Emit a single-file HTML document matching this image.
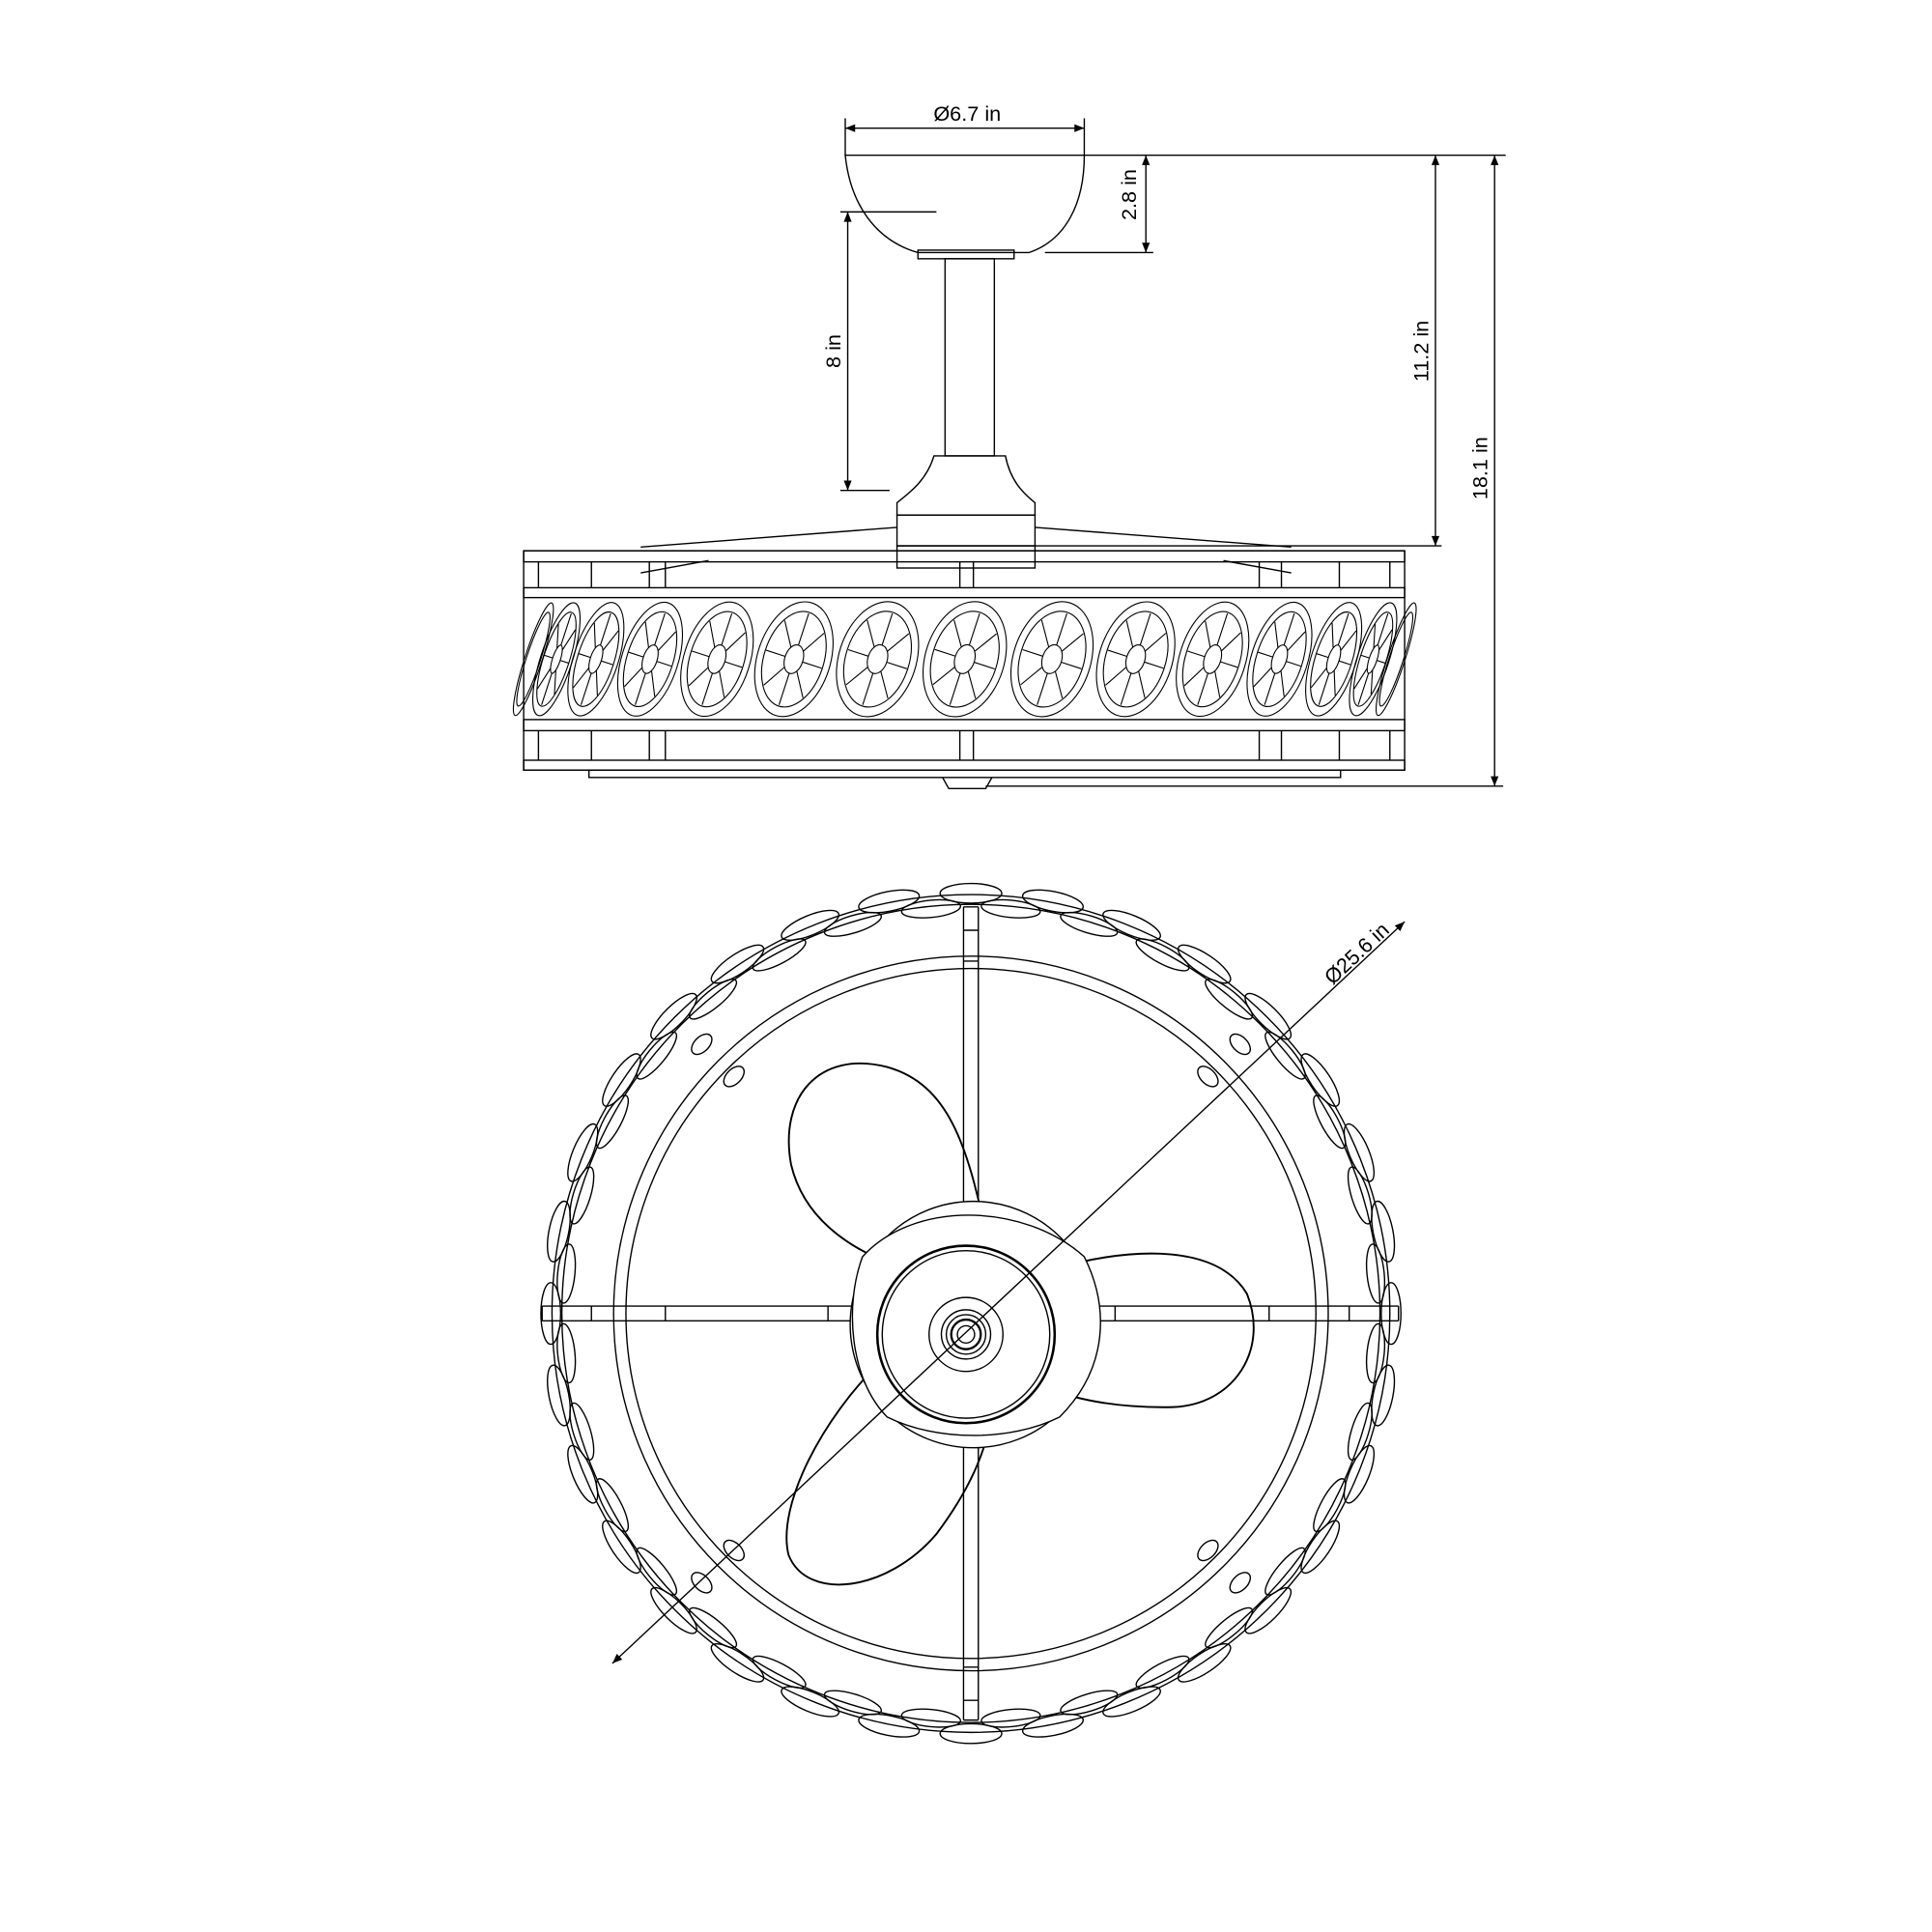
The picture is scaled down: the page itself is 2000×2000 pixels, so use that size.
<!DOCTYPE html>
<html><head><meta charset="utf-8"><style>
html,body{margin:0;padding:0;background:#fff;}
svg{display:block;}
text{font-family:"Liberation Sans",Arial,sans-serif;font-size:17px;fill:#000;}
.n{vector-effect:non-scaling-stroke;}
</style></head><body>
<svg width="2000" height="2000" viewBox="0 0 1568 1568" xmlns="http://www.w3.org/2000/svg" xmlns:xlink="http://www.w3.org/1999/xlink" fill="none" stroke="#000" stroke-width="1.1">
<defs>
<marker id="a" viewBox="0 0 10 10" refX="10" refY="5" markerWidth="10" markerHeight="8" orient="auto-start-reverse" markerUnits="userSpaceOnUse"><path d="M0,1 L10,5 L0,9 Z" fill="#000" stroke="none"/></marker>
<g id="cry">
<ellipse class="n" cx="0" cy="0" rx="1" ry="48"/>
<ellipse class="n" cx="0" cy="0" rx="0.82" ry="40"/>
<ellipse class="n" cx="0" cy="0" rx="0.25" ry="12"/>
<path class="n" d="M0.25,0 L0.8,0 M-0.25,0 L-0.8,0 M0,12 L0,39 M0,-12 L0,-39 M0.177,8.5 L0.566,27.6 M-0.177,8.5 L-0.566,27.6 M0.177,-8.5 L0.566,-27.6 M-0.177,-8.5 L-0.566,-27.6"/>
</g>
<g id="cry2">
<ellipse class="n" cx="0" cy="0" rx="1" ry="48"/>
<ellipse class="n" cx="0" cy="0" rx="0.82" ry="40"/>
</g>
<ellipse id="bo" cx="788" cy="725" rx="25" ry="8"/>
<ellipse id="bi" cx="788" cy="736" rx="24" ry="7"/>
<ellipse id="s1" cx="788" cy="757" rx="10" ry="6"/>
<ellipse id="s2" cx="788" cy="794" rx="10" ry="6"/>
</defs>
<!-- dimensions -->
<line x1="686" y1="104" x2="880" y2="104" marker-start="url(#a)" marker-end="url(#a)"/>
<line x1="686" y1="96" x2="686" y2="126"/><line x1="880" y1="96" x2="880" y2="126"/>
<text x="785" y="98" text-anchor="middle" stroke="none">Ø6.7 in</text>
<line x1="880" y1="126" x2="1222" y2="126"/>
<line x1="848" y1="205" x2="936" y2="205"/>
<line x1="930" y1="126" x2="930" y2="205" marker-start="url(#a)" marker-end="url(#a)"/>
<text transform="translate(922,158) rotate(-90)" text-anchor="middle" stroke="none">2.8 in</text>
<line x1="682" y1="172" x2="760" y2="172"/>
<line x1="682" y1="398" x2="722" y2="398"/>
<line x1="688" y1="172" x2="688" y2="398" marker-start="url(#a)" marker-end="url(#a)"/>
<text transform="translate(682,285) rotate(-90)" text-anchor="middle" stroke="none">8 in</text>
<line x1="840" y1="443" x2="1170" y2="443"/>
<line x1="1165" y1="126" x2="1165" y2="443" marker-start="url(#a)" marker-end="url(#a)"/>
<text transform="translate(1159,285) rotate(-90)" text-anchor="middle" stroke="none">11.2 in</text>
<line x1="800" y1="638" x2="1220" y2="638"/>
<line x1="1213" y1="126" x2="1213" y2="638" marker-start="url(#a)" marker-end="url(#a)"/>
<text transform="translate(1207,380) rotate(-90)" text-anchor="middle" stroke="none">18.1 in</text>
<!-- canopy -->
<path d="M686,126 L880,126 C880,165 865,195 835,205 L745,205 C710,195 690,165 686,126 Z"/>
<rect x="745" y="203" width="78" height="7"/>
<rect x="767" y="210" width="40" height="160"/>
<path d="M758,370 L816,370 C820,390 830,400 840,408 L840,418 L728,418 L728,408 C738,400 752,390 758,370 Z"/>
<rect x="728" y="418" width="112" height="25"/>
<rect x="728" y="443" width="112" height="18"/>
<path d="M520,444 L728,428 M840,428 L1048,444"/>
<!-- side cage -->
<rect x="425" y="447" width="715" height="178"/>
<rect x="425" y="447" width="715" height="9"/>
<rect x="425" y="477" width="715" height="8"/>
<rect x="425" y="584" width="715" height="9"/>
<rect x="425" y="617" width="715" height="8"/>
<rect x="478" y="625" width="610" height="6"/>
<path d="M765,631 L770,640 L800,640 L805,631"/>
<path d="M437,456V477 M480,456V477 M527,456V477 M540,456V477 M1022,456V477 M1040,456V477 M1087,456V477 M1128,456V477 M437,593V617 M480,593V617 M527,593V617 M540,593V617 M1022,593V617 M1040,593V617 M1087,593V617 M1128,593V617 M779,456V477 M790,456V477 M779,593V617 M790,593V617 M520,465 L575,455 M1048,465 L993,455"/>
<use href="#cry" xlink:href="#cry" transform="translate(783,535) rotate(18) scale(32,1)"/>
<use href="#cry" xlink:href="#cry" transform="translate(853.8,535) rotate(18) scale(31.4,1)"/>
<use href="#cry" xlink:href="#cry" transform="translate(712.2,535) rotate(18) scale(31.4,1)"/>
<use href="#cry" xlink:href="#cry" transform="translate(921.7,535) rotate(18) scale(29.6,1)"/>
<use href="#cry" xlink:href="#cry" transform="translate(644.3,535) rotate(18) scale(29.6,1)"/>
<use href="#cry" xlink:href="#cry" transform="translate(984.1,535) rotate(18) scale(26.7,1)"/>
<use href="#cry" xlink:href="#cry" transform="translate(581.9,535) rotate(18) scale(26.7,1)"/>
<use href="#cry" xlink:href="#cry" transform="translate(1038.4,535) rotate(18) scale(22.8,1)"/>
<use href="#cry" xlink:href="#cry" transform="translate(527.6,535) rotate(18) scale(22.8,1)"/>
<use href="#cry" xlink:href="#cry" transform="translate(1082.4,535) rotate(18) scale(18.1,1)"/>
<use href="#cry" xlink:href="#cry" transform="translate(483.6,535) rotate(18) scale(18.1,1)"/>
<use href="#cry" xlink:href="#cry" transform="translate(1114.4,535) rotate(18) scale(12.8,1)"/>
<use href="#cry" xlink:href="#cry" transform="translate(451.6,535) rotate(18) scale(12.8,1)"/>
<use href="#cry2" xlink:href="#cry2" transform="translate(1133.1,535) rotate(18) scale(7,1)"/>
<use href="#cry2" xlink:href="#cry2" transform="translate(432.9,535) rotate(18) scale(7,1)"/>
<!-- top view crystal band -->
<g>
<use href="#bo" xlink:href="#bo" transform="rotate(0 788 1066)"/><use href="#bo" xlink:href="#bo" transform="rotate(11.25 788 1066)"/><use href="#bo" xlink:href="#bo" transform="rotate(22.5 788 1066)"/><use href="#bo" xlink:href="#bo" transform="rotate(33.75 788 1066)"/><use href="#bo" xlink:href="#bo" transform="rotate(45 788 1066)"/><use href="#bo" xlink:href="#bo" transform="rotate(56.25 788 1066)"/><use href="#bo" xlink:href="#bo" transform="rotate(67.5 788 1066)"/><use href="#bo" xlink:href="#bo" transform="rotate(78.75 788 1066)"/><use href="#bo" xlink:href="#bo" transform="rotate(90 788 1066)"/><use href="#bo" xlink:href="#bo" transform="rotate(101.25 788 1066)"/><use href="#bo" xlink:href="#bo" transform="rotate(112.5 788 1066)"/><use href="#bo" xlink:href="#bo" transform="rotate(123.75 788 1066)"/><use href="#bo" xlink:href="#bo" transform="rotate(135 788 1066)"/><use href="#bo" xlink:href="#bo" transform="rotate(146.25 788 1066)"/><use href="#bo" xlink:href="#bo" transform="rotate(157.5 788 1066)"/><use href="#bo" xlink:href="#bo" transform="rotate(168.75 788 1066)"/><use href="#bo" xlink:href="#bo" transform="rotate(180 788 1066)"/><use href="#bo" xlink:href="#bo" transform="rotate(191.25 788 1066)"/><use href="#bo" xlink:href="#bo" transform="rotate(202.5 788 1066)"/><use href="#bo" xlink:href="#bo" transform="rotate(213.75 788 1066)"/><use href="#bo" xlink:href="#bo" transform="rotate(225 788 1066)"/><use href="#bo" xlink:href="#bo" transform="rotate(236.25 788 1066)"/><use href="#bo" xlink:href="#bo" transform="rotate(247.5 788 1066)"/><use href="#bo" xlink:href="#bo" transform="rotate(258.75 788 1066)"/><use href="#bo" xlink:href="#bo" transform="rotate(270 788 1066)"/><use href="#bo" xlink:href="#bo" transform="rotate(281.25 788 1066)"/><use href="#bo" xlink:href="#bo" transform="rotate(292.5 788 1066)"/><use href="#bo" xlink:href="#bo" transform="rotate(303.75 788 1066)"/><use href="#bo" xlink:href="#bo" transform="rotate(315 788 1066)"/><use href="#bo" xlink:href="#bo" transform="rotate(326.25 788 1066)"/><use href="#bo" xlink:href="#bo" transform="rotate(337.5 788 1066)"/><use href="#bo" xlink:href="#bo" transform="rotate(348.75 788 1066)"/>
<use href="#bi" xlink:href="#bi" transform="rotate(5.625 788 1066)"/><use href="#bi" xlink:href="#bi" transform="rotate(16.875 788 1066)"/><use href="#bi" xlink:href="#bi" transform="rotate(28.125 788 1066)"/><use href="#bi" xlink:href="#bi" transform="rotate(39.375 788 1066)"/><use href="#bi" xlink:href="#bi" transform="rotate(50.625 788 1066)"/><use href="#bi" xlink:href="#bi" transform="rotate(61.875 788 1066)"/><use href="#bi" xlink:href="#bi" transform="rotate(73.125 788 1066)"/><use href="#bi" xlink:href="#bi" transform="rotate(84.375 788 1066)"/><use href="#bi" xlink:href="#bi" transform="rotate(95.625 788 1066)"/><use href="#bi" xlink:href="#bi" transform="rotate(106.875 788 1066)"/><use href="#bi" xlink:href="#bi" transform="rotate(118.125 788 1066)"/><use href="#bi" xlink:href="#bi" transform="rotate(129.375 788 1066)"/><use href="#bi" xlink:href="#bi" transform="rotate(140.625 788 1066)"/><use href="#bi" xlink:href="#bi" transform="rotate(151.875 788 1066)"/><use href="#bi" xlink:href="#bi" transform="rotate(163.125 788 1066)"/><use href="#bi" xlink:href="#bi" transform="rotate(174.375 788 1066)"/><use href="#bi" xlink:href="#bi" transform="rotate(185.625 788 1066)"/><use href="#bi" xlink:href="#bi" transform="rotate(196.875 788 1066)"/><use href="#bi" xlink:href="#bi" transform="rotate(208.125 788 1066)"/><use href="#bi" xlink:href="#bi" transform="rotate(219.375 788 1066)"/><use href="#bi" xlink:href="#bi" transform="rotate(230.625 788 1066)"/><use href="#bi" xlink:href="#bi" transform="rotate(241.875 788 1066)"/><use href="#bi" xlink:href="#bi" transform="rotate(253.125 788 1066)"/><use href="#bi" xlink:href="#bi" transform="rotate(264.375 788 1066)"/><use href="#bi" xlink:href="#bi" transform="rotate(275.625 788 1066)"/><use href="#bi" xlink:href="#bi" transform="rotate(286.875 788 1066)"/><use href="#bi" xlink:href="#bi" transform="rotate(298.125 788 1066)"/><use href="#bi" xlink:href="#bi" transform="rotate(309.375 788 1066)"/><use href="#bi" xlink:href="#bi" transform="rotate(320.625 788 1066)"/><use href="#bi" xlink:href="#bi" transform="rotate(331.875 788 1066)"/><use href="#bi" xlink:href="#bi" transform="rotate(343.125 788 1066)"/><use href="#bi" xlink:href="#bi" transform="rotate(354.375 788 1066)"/>
<use href="#s1" xlink:href="#s1" transform="rotate(-45 788 1066)"/><use href="#s1" xlink:href="#s1" transform="rotate(45 788 1066)"/><use href="#s1" xlink:href="#s1" transform="rotate(135 788 1066)"/><use href="#s1" xlink:href="#s1" transform="rotate(225 788 1066)"/>
<use href="#s2" xlink:href="#s2" transform="rotate(-45 788 1066)"/><use href="#s2" xlink:href="#s2" transform="rotate(45 788 1066)"/><use href="#s2" xlink:href="#s2" transform="rotate(135 788 1066)"/><use href="#s2" xlink:href="#s2" transform="rotate(225 788 1066)"/>
</g>
<circle cx="788" cy="1066" r="340"/>
<circle cx="788" cy="1066" r="332"/>
<circle cx="788" cy="1066" r="290"/>
<circle cx="788" cy="1066" r="280"/>
<path d="M782,736V1396 M794,736V1396 M782,736H794 M782,1396H794 M782,755H794 M782,780H794 M782,1353H794 M782,1380H794"/>
<path d="M440,1060H700 M440,1072H700 M1135,1060H870 M1135,1072H870 M440,1060V1072 M1135,1060V1072 M540,1060V1072 M1030,1060V1072 M1095,1060V1072 M480,1060V1072 M672,1060V1072 M905,1060V1072"/>
<!-- blades -->
<path d="M800,1000 C785,930 770,880 720,866 C665,852 632,890 642,945 C655,1000 710,1025 755,1035" stroke-width="1.5"/>
<path d="M855,1030 C905,1015 985,1005 1012,1050 C1030,1095 1002,1140 952,1142 C905,1143 870,1135 845,1125" stroke-width="1.5"/>
<path d="M715,1105 C668,1150 630,1222 640,1262 C655,1300 720,1292 760,1245 C790,1205 800,1175 805,1150" stroke-width="1.5"/>
<circle cx="790" cy="1075" r="100" fill="#fff"/>
<path d="M700,1020 C740,975 830,975 880,1020 C900,1060 900,1110 860,1150 C820,1170 760,1170 720,1150 C690,1120 685,1060 700,1020 Z" fill="#fff"/>
<circle cx="784" cy="1083" r="72" fill="#fff" stroke-width="2"/>
<circle cx="784" cy="1083" r="68"/>
<circle cx="784" cy="1083" r="30"/>
<circle cx="784" cy="1083" r="20"/>
<circle cx="784" cy="1083" r="16"/>
<circle cx="784" cy="1083" r="12" stroke-width="1.8"/>
<circle cx="784" cy="1083" r="7"/>
<!-- diameter -->
<line x1="497" y1="1350" x2="1140" y2="748" marker-start="url(#a)" marker-end="url(#a)"/>
<text transform="translate(1105,778) rotate(-43)" text-anchor="middle" stroke="none">Ø25.6 in</text>
</svg>
</body></html>
